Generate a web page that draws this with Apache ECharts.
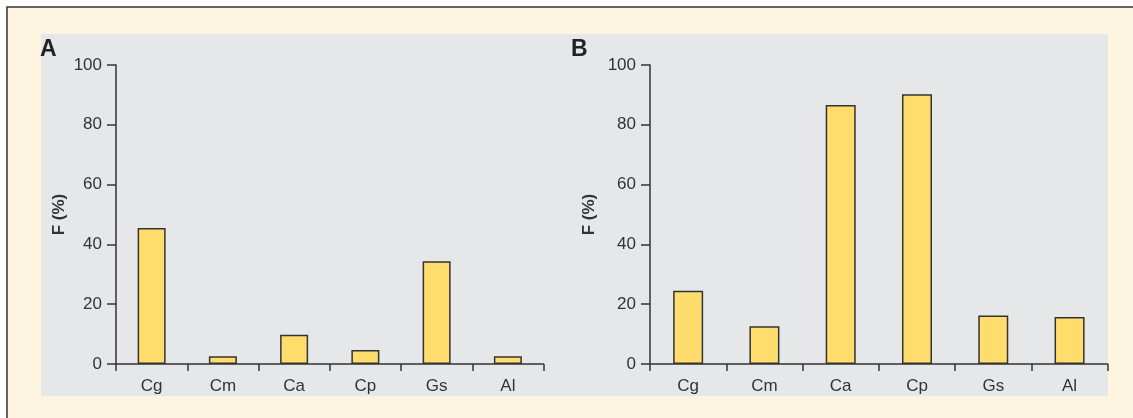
<!DOCTYPE html>
<html>
<head>
<meta charset="utf-8">
<script src="https://cdn.jsdelivr.net/npm/echarts@6/dist/echarts.min.js"></script>
<style>
  html, body { margin: 0; padding: 0; background: #fff; }
  #chart { width: 1133px; height: 418px; }
</style>
</head>
<body>
<div id="chart"></div>
<script>
// categories shared by both panels
const categories = ['Cg', 'Cm', 'Ca', 'Cp', 'Gs', 'Al']
// F (%) per panel
const valuesA = [45.5, 2.6, 9.8, 4.7, 34.4, 2.6]
const valuesB = [24.5, 12.6, 86.6, 90.2, 16.2, 15.7]
const yTicks = [0, 20, 40, 60, 80, 100]

const font = '"Liberation Sans", Arial, Helvetica, sans-serif'
const ink = '#333'
const barFill = '#ffdd6c'

function yAxis(gridIndex, nameGap) {
  return {
    type: 'value',
    gridIndex: gridIndex,
    min: yTicks[0],
    max: yTicks[yTicks.length - 1],
    interval: yTicks[1] - yTicks[0],
    name: 'F (%)',
    nameLocation: 'middle',
    nameGap: nameGap,
    nameRotate: 90,
    nameTextStyle: { fontFamily: font, fontSize: 17, fontWeight: 'bold', color: ink },
    axisLine: { show: true, lineStyle: { color: ink, width: 1.5 } },
    axisTick: { show: true, length: 9, lineStyle: { color: ink, width: 1.5 } },
    axisLabel: { fontFamily: font, fontSize: 17, color: ink, margin: 14 },
    splitLine: { show: false }
  }
}

function xAxis(gridIndex) {
  return {
    type: 'category',
    gridIndex: gridIndex,
    data: categories,
    axisLine: { show: true, lineStyle: { color: ink, width: 1.5 } },
    axisTick: { show: true, length: 7, lineStyle: { color: ink, width: 1.5 } },
    axisLabel: { fontFamily: font, fontSize: 17, color: ink, margin: 14 }
  }
}

function barSeries(idx, data, width) {
  return {
    type: 'bar',
    xAxisIndex: idx,
    yAxisIndex: idx,
    data: data,
    barWidth: width,
    itemStyle: { color: barFill, borderColor: ink, borderWidth: 1.5 },
    silent: true
  }
}

const chart = echarts.init(document.getElementById('chart'), null, { renderer: 'canvas' })
chart.setOption({
  backgroundColor: '#fff',
  animation: false,
  graphic: [
    {
      type: 'rect', z: -10, silent: true,
      shape: { x: 7, y: 7, width: 1140, height: 420 },
      style: { fill: '#fdf5df', stroke: ink, lineWidth: 1.5 }
    },
    {
      type: 'rect', z: -9, silent: true,
      shape: { x: 41, y: 34, width: 1067, height: 362 },
      style: { fill: '#e6e7e9' }
    },
    {
      type: 'text', left: 40, top: 38,
      style: { text: 'A', font: 'bold 23px ' + font, fill: '#222' }
    },
    {
      type: 'text', left: 571, top: 38,
      style: { text: 'B', font: 'bold 23px ' + font, fill: '#222' }
    }
  ],
  grid: [
    { left: 116, top: 65, width: 427.5, height: 299 },
    { left: 650, top: 65, width: 457.7, height: 299 }
  ],
  xAxis: [xAxis(0), xAxis(1)],
  yAxis: [yAxis(0, 48), yAxis(1, 52)],
  series: [barSeries(0, valuesA, 28), barSeries(1, valuesB, 30)]
})
</script>
</body>
</html>
